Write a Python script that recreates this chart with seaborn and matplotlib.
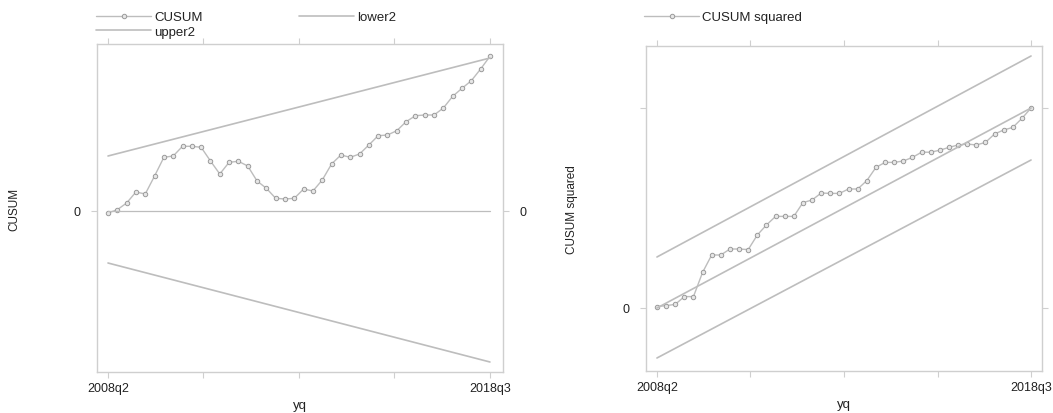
import numpy as np
import pandas as pd
import matplotlib
matplotlib.use("Agg")
import matplotlib.pyplot as plt
import seaborn as sns

# ---------------- data ----------------
quarters_first = "2008q2"
quarters_last = "2018q3"
n_obs = 42  # 2008q2 .. 2018q3

cusum = [-0.2, 0.13, 0.8, 1.9, 1.7, 3.5, 5.37, 5.5, 6.47, 6.47, 6.37, 5.0, 3.7,
         4.87, 4.97, 4.5, 3.0, 2.27, 1.27, 1.2, 1.27, 2.2, 2.0, 3.1, 4.7, 5.6,
         5.37, 5.7, 6.6, 7.53, 7.6, 8.03, 8.93, 9.53, 9.6, 9.6, 10.3, 11.47,
         12.27, 13.03, 14.2, 15.47]
upper2 = [5.5, 15.3]     # at first / last quarter
lower2 = [-5.2, -15.1]   # at first / last quarter

cusum_sq = [0.007, 0.012, 0.018, 0.057, 0.057, 0.178, 0.265, 0.265, 0.295,
            0.295, 0.292, 0.365, 0.415, 0.458, 0.458, 0.458, 0.527, 0.54,
            0.575, 0.573, 0.573, 0.595, 0.595, 0.637, 0.703, 0.728, 0.728,
            0.735, 0.753, 0.779, 0.779, 0.789, 0.803, 0.815, 0.82, 0.815,
            0.828, 0.87, 0.89, 0.903, 0.948, 1.0]
sq_mid = [0.0, 1.0]       # expected line at first / last quarter
sq_upper = [0.255, 1.26]
sq_lower = [-0.25, 0.74]

xtick_labels = [quarters_first, "", "", "", quarters_last]

# ---------------- style ----------------
sns.set_theme(style="white")
plt.rcParams['font.family'] = ['Liberation Sans', 'DejaVu Sans']
LINE = "#bdbdbd"
MARK = "#9a9a9a"
TXT = "#222222"
SPINE = "#cfcfcf"

fig = plt.figure(figsize=(10.53, 4.14), dpi=100)
ax1 = fig.add_axes([97/1053, 1-373/414, 406/1053, 328/414])
ax2 = fig.add_axes([646/1053, 1-372/414, 396/1053, 325/414])

idx = np.arange(n_obs)
ends = [0, n_obs - 1]
df1 = pd.DataFrame({"t": idx, "CUSUM": cusum})
df_b = pd.DataFrame({"t": ends, "upper2": upper2, "lower2": lower2,
                     "mid": sq_mid, "up": sq_upper, "lo": sq_lower})
df2 = pd.DataFrame({"t": idx, "CUSUM squared": cusum_sq})

mk = dict(marker="o", markersize=3.2, markerfacecolor="#e6e6e6",
          markeredgecolor=MARK, markeredgewidth=0.7)

# left panel
sns.lineplot(data=df1, x="t", y="CUSUM", ax=ax1, color=LINE, lw=1.0,
             label="CUSUM", legend=False, **mk)
sns.lineplot(data=df_b, x="t", y="lower2", ax=ax1, color=LINE, lw=1.2,
             label="lower2", legend=False)
sns.lineplot(data=df_b, x="t", y="upper2", ax=ax1, color=LINE, lw=1.2,
             label="upper2", legend=False)
ax1.plot(ends, [0, 0], color=LINE, lw=0.9)

# right panel
sns.lineplot(data=df2, x="t", y="CUSUM squared", ax=ax2, color=LINE, lw=1.0,
             label="CUSUM squared", legend=False, **mk)
for col in ["mid", "up", "lo"]:
    sns.lineplot(data=df_b, x="t", y=col, ax=ax2, color=LINE, lw=1.2,
                 legend=False)

xt = np.linspace(0, n_obs - 1, 5)
for ax in (ax1, ax2):
    ax.set_xticks(xt)
    ax.set_xticklabels(xtick_labels)
    for s in ax.spines.values():
        s.set_color(SPINE)
        s.set_linewidth(1.0)
    ax.tick_params(axis="both", which="both", direction="out", length=4,
                   width=0.8, color=SPINE, labelsize=9, labelcolor=TXT,
                   top=True, right=True, bottom=True, left=True)
    ax.set_xlabel("yq", fontsize=9.5, color=TXT, labelpad=3)

ax1.set_xlim(-1.18, 42.4)
ax1.set_ylim(-16.1, 16.7)
ax1.set_yticks([0])
ax1.set_yticklabels(["0"])
ax1.tick_params(axis="y", labelright=True, pad=8)
ax1.set_ylabel("CUSUM", fontsize=8.5, color=TXT, labelpad=38)

ax2.set_xlim(-1.2, 42.2)
ax2.set_ylim(-0.315, 1.31)
ax2.set_yticks([0, 1])
ax2.set_yticklabels(["0", ""])
ax2.tick_params(axis="y", labelright=False, pad=8)
ax2.set_ylabel("CUSUM squared", fontsize=8.5, color=TXT, labelpad=32)

# legends
h, l = ax1.get_legend_handles_labels()
order = [l.index("CUSUM"), l.index("upper2"), l.index("lower2")]
fig.legend([h[i] for i in order], [l[i] for i in order], ncol=2,
           loc="upper left", bbox_to_anchor=(88/1053, 0.99), frameon=False,
           fontsize=9.5, handlelength=4.2, handletextpad=0.2, labelspacing=0.15,
           columnspacing=7.3, borderaxespad=0.2, labelcolor=TXT)
h2, l2 = ax2.get_legend_handles_labels()
fig.legend(h2, l2, loc="upper left", bbox_to_anchor=(636/1053, 0.99),
           frameon=False, fontsize=9.5, handlelength=4.2, handletextpad=0.2,
           borderaxespad=0.2, labelcolor=TXT)

fig.savefig("out.png", dpi=100)
